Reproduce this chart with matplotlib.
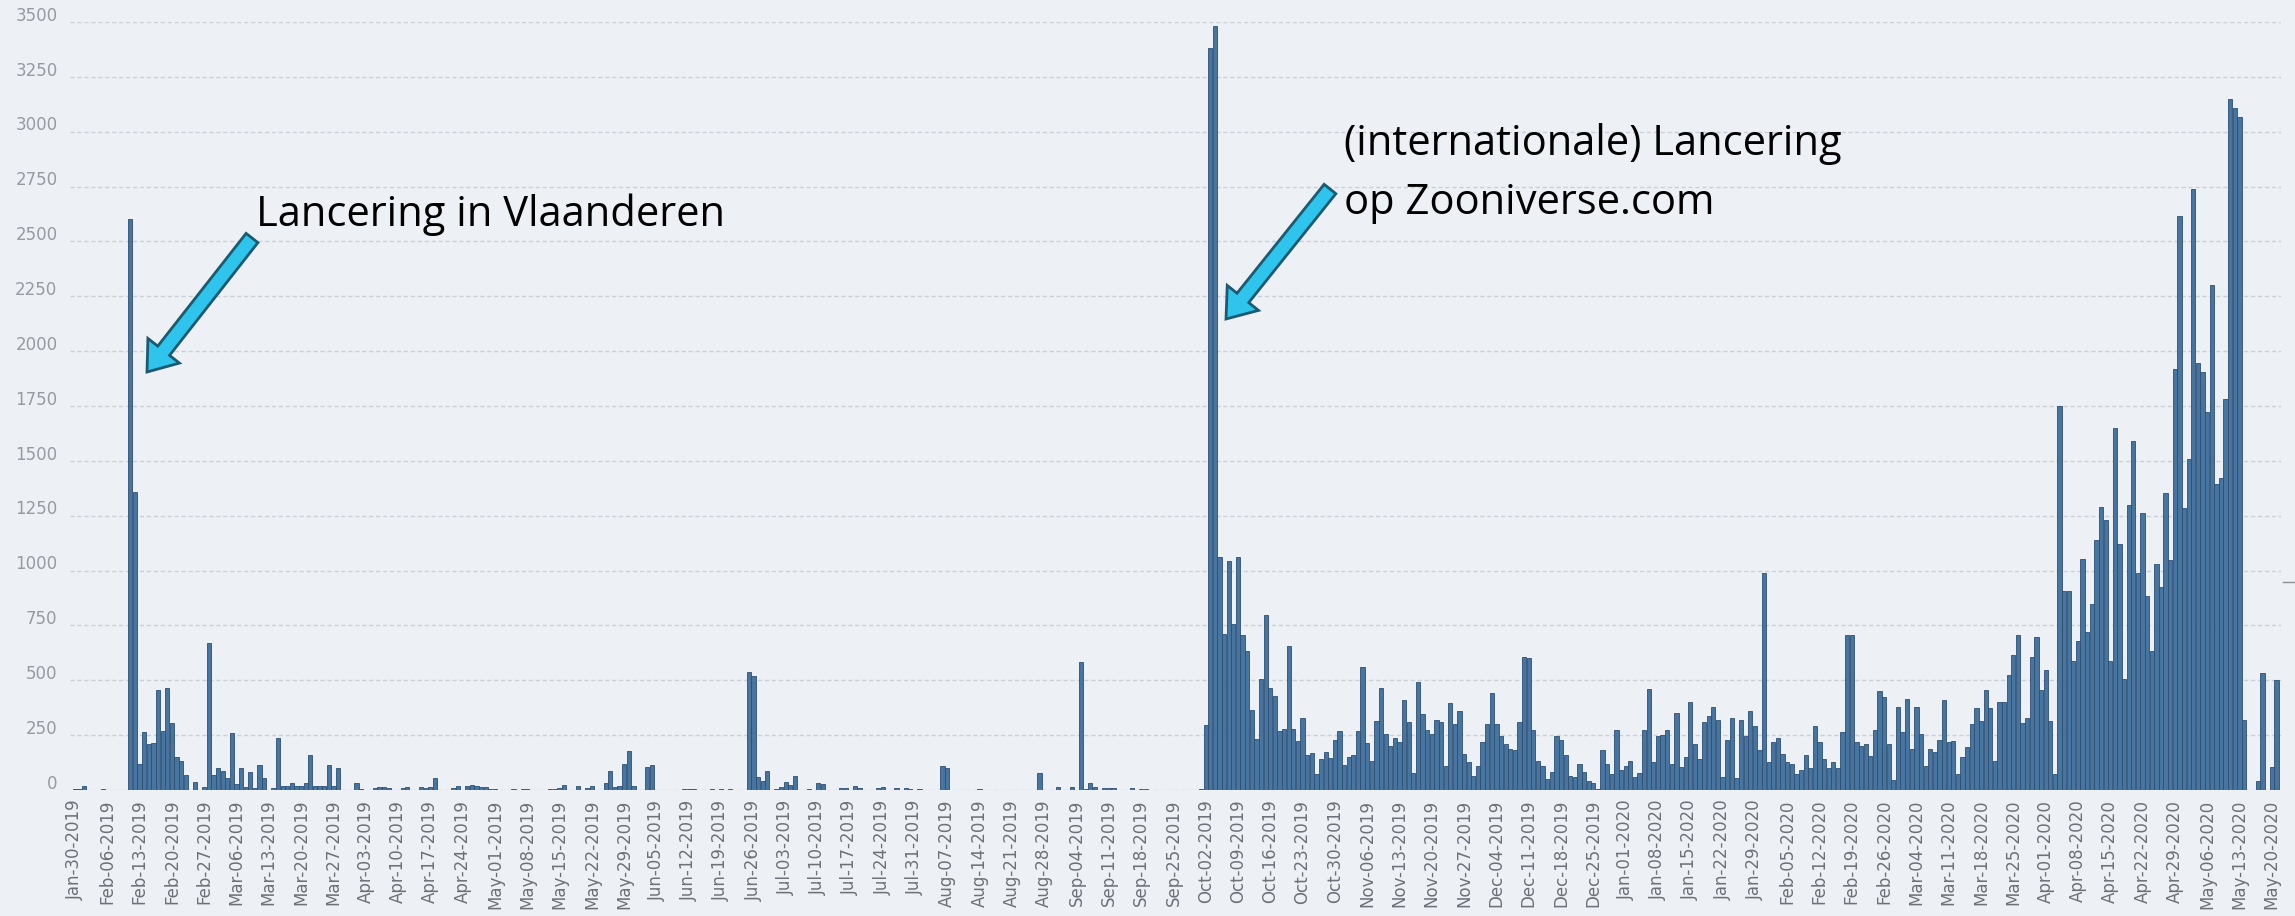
import numpy as np
import pandas as pd
import matplotlib
matplotlib.use("Agg")
import matplotlib.pyplot as plt
import matplotlib.transforms as mtransforms
from matplotlib.patches import FancyArrow

# Daily classifications per month (first day = 30 Jan 2019)
jan_2019 = [3, 6]
feb_2019 = [20, 0, 0, 0, 3, 0, 0, 2, 0, 0, 2600, 1360, 120, 265,
            210, 215, 455, 268, 463, 305, 150, 130, 70, 0, 35, 0, 12, 670]
mar_2019 = [67, 99, 88, 54, 260, 27, 99, 15, 80, 10, 115, 56, 0, 10, 235, 20,
            20, 30, 20, 20, 30, 160, 20, 20, 20, 112, 20, 100, 0, 0, 0]
apr_2019 = [30, 5, 0, 0, 10, 15, 12, 10, 0, 0, 8, 12, 0, 0, 15,
            10, 15, 55, 0, 0, 0, 8, 20, 0, 20, 25, 20, 15, 12, 5]
may_2019 = [3, 0, 2, 0, 3, 0, 5, 3, 0, 0, 0, 0, 5, 5, 10, 25,
            0, 0, 20, 0, 10, 20, 0, 0, 30, 86, 15, 20, 117, 179, 20]
jun_2019 = [0, 0, 106, 114, 0, 0, 0, 0, 0, 0, 5, 3, 5, 0, 0,
            0, 3, 2, 3, 2, 3, 2, 0, 0, 540, 518, 60, 40, 86, 0]
jul_2019 = [5, 15, 35, 25, 65, 0, 0, 3, 0, 30, 28, 0, 0, 0, 10, 10,
            0, 20, 10, 0, 0, 0, 8, 15, 0, 0, 8, 0, 8, 5, 0]
aug_2019 = [3, 0, 0, 0, 0, 110, 100, 0, 0, 0, 0, 0, 0, 3, 0, 0,
            0, 0, 0, 0, 0, 0, 0, 0, 0, 0, 78, 0, 0, 0, 12]
sep_2019 = [0, 0, 15, 0, 583, 5, 30, 15, 0, 10, 8, 8, 0, 0, 0,
            10, 0, 3, 3, 0, 0, 2, 2, 2, 0, 0, 2, 0, 0, 0]
oct_2019 = [3, 295, 3380, 3480, 1060, 713, 1042, 756, 1060, 708, 633, 366, 232, 507, 796, 467,
            427, 267, 280, 655, 280, 222, 329, 160, 168, 72, 142, 174, 147, 227, 267]
nov_2019 = [115, 152, 160, 267, 561, 214, 134, 313, 467, 254, 199, 239, 221, 408, 312,
            76, 493, 348, 275, 257, 317, 312, 109, 395, 299, 362, 163, 127, 63, 109]
dec_2019 = [217, 299, 444, 299, 245, 208, 185, 181, 312, 607, 600, 275, 130, 109, 51, 82,
            245, 226, 159, 63, 60, 118, 80, 40, 30, 5, 181, 118, 72, 275, 91]
jan_2020 = [109, 130, 58, 76, 272, 462, 127, 245, 250, 275, 118, 353, 105, 149, 402, 208,
            141, 312, 335, 377, 317, 58, 226, 330, 54, 317, 245, 359, 293, 181, 990]
feb_2020 = [127, 217, 235, 163, 127, 118, 72, 91, 159, 100, 290, 221, 141, 100, 127,
            100, 263, 707, 707, 221, 199, 208, 154, 275, 449, 426, 208, 45, 380]
mar_2020 = [263, 413, 185, 377, 257, 109, 185, 172, 226, 408, 221, 222, 72, 152, 195, 302,
            374, 313, 454, 374, 134, 401, 401, 526, 614, 708, 307, 329, 606, 695, 454]
apr_2020 = [548, 313, 72, 1750, 908, 908, 588, 681, 1055, 721, 847, 1141, 1288, 1229, 588,
            1648, 1122, 508, 1301, 1590, 988, 1264, 882, 633, 1028, 927, 1352, 1050, 1918, 2618]
may_2020 = [1285, 1508, 2740, 1948, 1905, 1724, 2300, 1395, 1420, 1780, 3150,
            3110, 3065, 321, 0, 0, 40, 534, 0, 107, 500]

counts = np.array(jan_2019 + feb_2019 + mar_2019 + apr_2019 + may_2019 + jun_2019
                  + jul_2019 + aug_2019 + sep_2019 + oct_2019 + nov_2019 + dec_2019
                  + jan_2020 + feb_2020 + mar_2020 + apr_2020 + may_2020)
days = pd.date_range("2019-01-30", periods=len(counts), freq="D")
y_ticks = list(range(0, 3501, 250))

BG = "#edf0f4"
BAR = "#4874a0"
EDGE = "#2d4f74"

W, H = 2295, 916
fig = plt.figure(figsize=(W / 100, H / 100), dpi=100)
fig.patch.set_facecolor(BG)

# plot area in pixels: x 70..2281, y 22..790 (from top)
ax = fig.add_axes([70 / W, (H - 790) / H, (2281 - 70) / W, (790 - 22) / H])
ax.set_facecolor(BG)

x = np.arange(len(counts))
keep = counts > 0
ax.bar(x[keep], counts[keep], width=0.92, color=BAR, edgecolor=EDGE,
       linewidth=0.6, zorder=3)

ax.set_xlim(-1.08, 478.0)
ax.set_ylim(0, 3500)

ax.set_yticks(y_ticks)
ax.set_yticklabels([str(v) for v in y_ticks], fontsize=12, color="#959aa3")
ax.yaxis.grid(True, color="#cbd0d8", linestyle=(0, (3, 2)), linewidth=1.0, zorder=0)

ax.set_xticks(x[::7])
ax.set_xticklabels(days[::7].strftime("%b-%d-%Y"), rotation=90, fontsize=12,
                   color="#6c7179")

ax.tick_params(axis="x", length=0, pad=7)
ax.tick_params(axis="y", length=0, pad=9)
for s in ax.spines.values():
    s.set_visible(False)

# y labels sit a little above their grid lines
shift = mtransforms.ScaledTranslation(0, 6 / 72, fig.dpi_scale_trans)
for lab in ax.get_yticklabels():
    lab.set_transform(lab.get_transform() + shift)

# overlay in pixel coordinates for the callouts
ov = fig.add_axes([0, 0, 1, 1])
ov.set_xlim(0, W)
ov.set_ylim(H, 0)
ov.axis("off")
ov.patch.set_alpha(0)

arrow_kw = dict(width=15, head_width=40, head_length=27, length_includes_head=True,
                facecolor="#2ec4ec", edgecolor="#1b5a70", linewidth=2)
ov.add_patch(FancyArrow(252, 238, 147 - 252, 372 - 238, **arrow_kw))
ov.add_patch(FancyArrow(1330, 189, 1226 - 1330, 319 - 189, **arrow_kw))

txt_kw = dict(fontsize=30, family="Open Sans", color="black", va="baseline", ha="left")
ov.text(256, 226, "Lancering in Vlaanderen", **txt_kw)
ov.text(1344, 155, "(internationale) Lancering", **txt_kw)
ov.text(1344, 214, "op Zooniverse.com", **txt_kw)

# small grey line at the right edge of the screenshot
ov.plot([2283, 2295], [582, 582], color="#8c9198", linewidth=1)

fig.savefig("out.png", dpi=100, facecolor=BG)
